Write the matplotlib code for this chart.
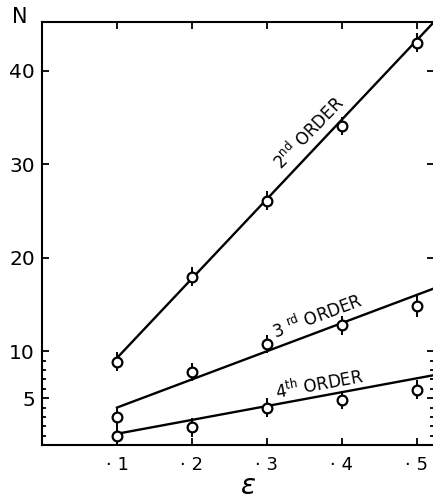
import numpy as np
import matplotlib.pyplot as plt

plt.rcParams['font.family'] = ['DejaVu Sans']

#%% - Data
eps = [0.1, 0.2, 0.3, 0.4, 0.5]
n_2nd = [8.9, 18.0, 26.1, 34.1, 43.0]
n_3rd = [3.0, 7.8, 10.8, 12.8, 14.9]
n_4th = [1.0, 1.9, 4.0, 4.8, 5.9]
err_2nd = [1.0, 1.0, 1.0, 1.0, 1.0]
err_3rd = [1.0, 1.0, 1.0, 1.0, 1.2]
err_4th = [1.0, 1.0, 1.0, 1.0, 1.0]

# fitted straight lines (end points)
fit_x = [0.1, 0.525]
fit_2nd = [9.3, 45.4]
fit_3rd = [4.0, 16.8]
fit_4th = [1.2, 7.5]

x_ticks = [0.1, 0.2, 0.3, 0.4, 0.5]
x_ticklabels = ['· 1', '· 2', '· 3', '· 4', '· 5']
y_ticks = [5, 10, 20, 30, 40]
y_ticklabels = ['5', '10', '20', '30', '40']

#%% - Figure
fig = plt.figure(figsize=(4.33, 4.99), dpi=100)
ax = fig.add_axes([42/433, 54/499, 392/433, 423/499])

ax.set_xlim(0, 0.5227)
ax.set_ylim(0, 45.2)

for fy in (fit_2nd, fit_3rd, fit_4th):
    ax.plot(fit_x, fy, color='black', lw=1.7, zorder=2)

for ny, ey in ((n_2nd, err_2nd), (n_3rd, err_3rd), (n_4th, err_4th)):
    ax.errorbar(eps, ny, yerr=ey, fmt='o', ms=7, mfc='white', mec='black',
                mew=1.6, ecolor='black', elinewidth=1.4, capsize=0, zorder=3)

ax.text(0.356, 33.4, r'2$^{\rm nd}$ ORDER', rotation=46, ha='center', va='center',
        fontsize=12)
ax.text(0.367, 13.8, r'3 $^{\rm rd}$ ORDER', rotation=20.5, ha='center', va='center',
        fontsize=12)
ax.text(0.370, 6.5, r'4$^{\rm th}$ ORDER', rotation=10.5, ha='center', va='center',
        fontsize=12)

ax.set_xticks(x_ticks)
ax.set_xticklabels(x_ticklabels)
ax.set_yticks(y_ticks)
ax.set_yticklabels(y_ticklabels)
ax.yaxis.set_minor_locator(plt.FixedLocator([1, 2, 3, 4, 6, 7, 8, 9]))

ax.tick_params(axis='both', which='both', direction='in', top=True, right=True,
               width=1.3, colors='black')
ax.tick_params(axis='both', which='major', length=5)
ax.tick_params(axis='y', which='minor', length=3)
ax.tick_params(axis='x', which='major', labelsize=13, pad=8)
ax.tick_params(axis='y', which='major', labelsize=14.5, pad=5)

for s in ax.spines.values():
    s.set_linewidth(1.5)

fig.text(20/433, 1 - 17/499, 'N', fontsize=15, ha='center', va='center')
fig.text(248/433, 5/499, r'$\varepsilon$', fontsize=20, ha='center', va='baseline')

fig.savefig('out.png', dpi=100)
